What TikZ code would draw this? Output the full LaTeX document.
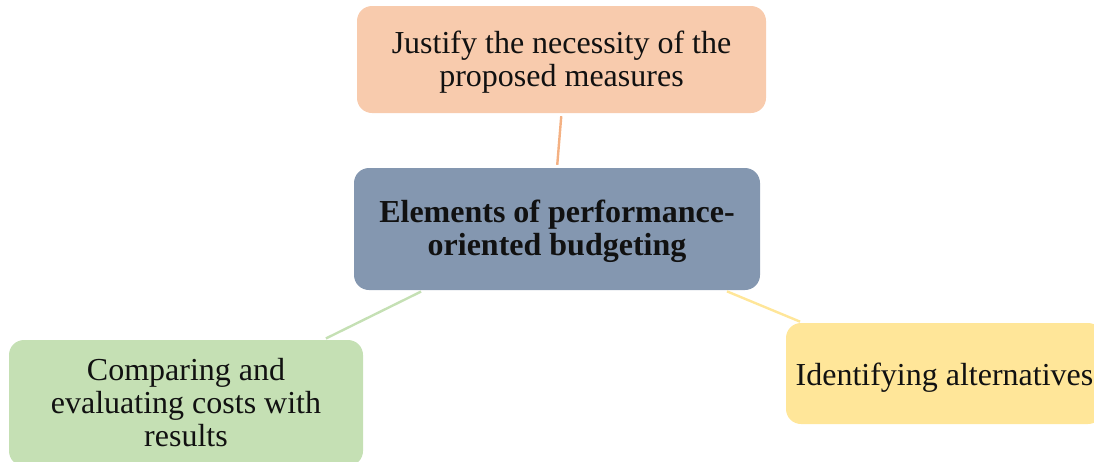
\documentclass[tikz,border=0pt]{standalone}
\usepackage{fontspec}
\setmainfont{Liberation Serif}
\usetikzlibrary{calc}
\definecolor{orfill}{HTML}{F8CBAD}
\definecolor{orline}{HTML}{F4B183}
\definecolor{cfill}{HTML}{8497B0}
\definecolor{gfill}{HTML}{C5E0B4}
\definecolor{gline}{HTML}{C5E0B4}
\definecolor{yfill}{HTML}{FFE699}
\definecolor{yline}{HTML}{FFE699}
\definecolor{txt}{HTML}{111111}
\newcommand{\boxtext}[2]{\raisebox{-#1}[\height][\depth]{\begin{tabular}{@{}c@{}}#2\end{tabular}}}
\tikzset{
  box/.style={rectangle, rounded corners=15pt, inner sep=0pt, align=center,
    text=txt, font=\fontsize{32}{33}\selectfont},
  link/.style={line width=2.4pt, shorten >=3pt, shorten <=3pt}
}
\begin{document}
\begin{tikzpicture}[x=1pt,y=-1pt]
\useasboundingbox (0,0) rectangle (1094,461);
\clip (0,0) rectangle (1094,461);
\node[box, fill=orfill, minimum width=409pt, minimum height=107pt] (top) at (561.5,59.5)
  {\boxtext{4pt}{Justify the necessity of the\\proposed measures}};
\node[box, fill=cfill, minimum width=406pt, minimum height=122pt,
  font=\fontsize{32}{33}\selectfont\bfseries] (mid) at (557,229)
  {\boxtext{3pt}{Elements of performance-\\oriented budgeting}};
\node[box, fill=gfill, minimum width=354pt, minimum height=126pt] (left) at (186,403)
  {\boxtext{4pt}{Comparing and\\evaluating costs with\\results}};
\node[box, fill=yfill, minimum width=317pt, minimum height=101pt] (right) at (944.5,373.5)
  {\boxtext{5pt}{Identifying alternatives}};
\draw[link, orline] (top.south) -- (mid.north);
\draw[link, gline] ($(mid.south west)+(70,0)$) -- ($(left.north east)+(-40,0)$);
\draw[link, yline] ($(mid.south east)+(-36,0)$) -- ($(right.north west)+(17,0)$);
\end{tikzpicture}
\end{document}
